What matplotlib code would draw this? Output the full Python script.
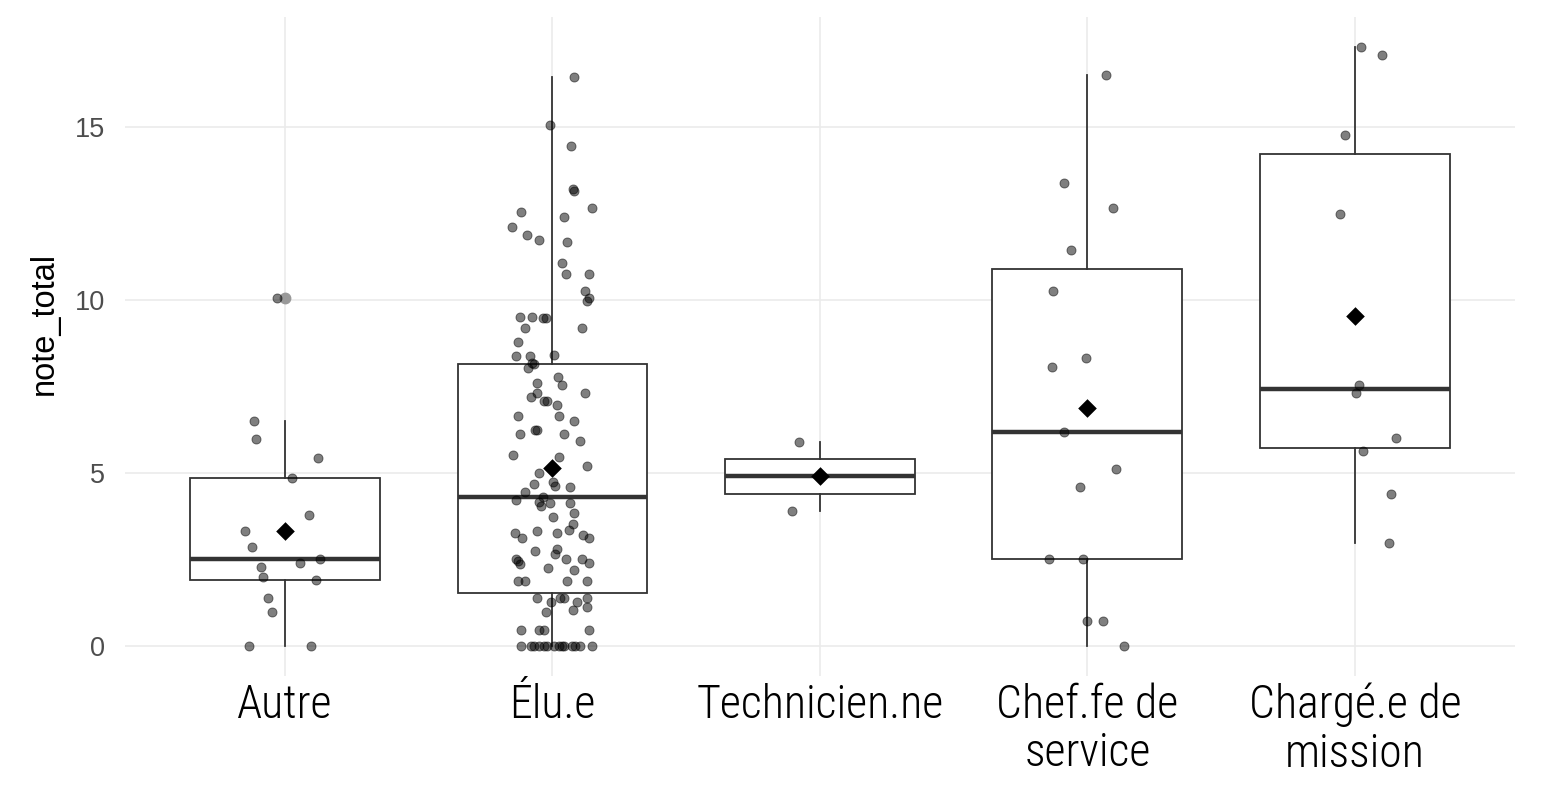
import numpy as np
import matplotlib
matplotlib.use("Agg")
import matplotlib.pyplot as plt

categories = ["Autre", "Élu.e", "Technicien.ne", "Chef.fe de\nservice", "Chargé.e de\nmission"]

# points (valeur, décalage horizontal du jitter en unités de catégorie)
autre_vals = [10.07, 6.50, 5.98, 5.43, 4.86, 3.79, 3.32, 2.87, 2.52, 2.40, 2.28, 2.00, 1.91, 1.39, 0.98, 0, 0]
autre_jit = [-0.030, -0.116, -0.108, 0.123, 0.026, 0.090, -0.150, -0.123, 0.131, 0.056, -0.090, -0.082, 0.116, -0.064, -0.049, -0.135, 0.097]

elu_vals = [16.43, 15.05, 14.44, 13.20, 13.15, 12.65, 12.54, 12.40, 12.10, 11.88, 11.73, 11.67, 11.06, 10.76, 10.76,
            10.25, 10.06, 9.97, 9.50, 9.50, 9.47, 9.47, 9.19, 9.19, 8.77, 8.37, 8.37, 8.42,
            8.19, 8.14, 8.03, 7.77, 7.60, 7.55, 7.31, 7.31, 7.20, 7.08, 7.08, 6.95, 6.64, 6.64, 6.49, 6.24, 6.24,
            6.12, 6.12, 5.92, 5.52, 5.45, 5.20, 5.00, 4.69, 4.73, 4.63, 4.60, 4.44, 4.23, 4.30, 4.15, 4.04, 4.13,
            4.13, 3.73, 3.83, 3.53, 3.36, 3.27, 3.31, 3.27, 3.22, 3.11, 3.11, 2.75, 2.81, 2.65, 2.50, 2.45, 2.38,
            2.50, 2.50, 2.40, 2.24, 2.19, 1.89, 1.89, 1.89, 1.89, 1.38, 1.27, 1.38, 1.38, 1.28, 1.38, 1.12, 1.03,
            0.97, 0.47, 0.47, 0.47, 0.47, 0, 0, 0, 0, 0, 0, 0, 0, 0, 0, 0, 0, 0, 0]
elu_jit = [0.081, -0.010, 0.070, 0.077, 0.082, 0.148, -0.116, 0.042, -0.150, -0.096, -0.051, 0.055, 0.036, 0.049, 0.136,
           0.121, 0.136, 0.130, -0.123, -0.075, -0.034, -0.026, -0.102, 0.110, -0.128, -0.136, -0.083, 0.004,
           -0.076, -0.070, -0.091, 0.022, -0.057, 0.036, 0.122, -0.057, -0.079, -0.030, -0.022, 0.016, -0.130, 0.024, 0.081, -0.066, -0.059,
           -0.122, 0.044, 0.104, -0.148, 0.024, 0.130, -0.050, -0.070, 0.003, 0.010, 0.064, -0.102, -0.135, -0.037, -0.050, -0.044, -0.010,
           0.064, 0.003, 0.082, 0.076, 0.061, -0.142, -0.057, 0.018, 0.115, -0.115, 0.137, -0.064, 0.018, 0.010, -0.136, -0.130, -0.122,
           0.050, 0.110, 0.136, -0.016, 0.082, -0.128, -0.104, 0.056, 0.130, -0.057, -0.004, 0.027, 0.042, 0.090, 0.130, 0.130, 0.076,
           -0.024, -0.116, -0.049, -0.030, 0.136, -0.116, -0.082, -0.070, -0.051, -0.033, -0.020, 0.005, 0.024, 0.036, 0.042, 0.074, 0.086, 0.102, 0.146]

tech_vals = [5.90, 4.90, 3.90]
tech_jit = [-0.078, 0.0, -0.105]

chef_vals = [16.49, 13.38, 12.67, 11.43, 10.26, 8.32, 8.06, 6.19, 5.11, 4.60, 2.51, 2.51, 0.71, 0.71, 0]
chef_jit = [0.071, -0.086, 0.097, -0.060, -0.127, -0.007, -0.131, -0.086, 0.105, -0.026, -0.142, -0.015, 0.0, 0.060, 0.138]

charge_vals = [17.32, 17.07, 14.78, 12.49, 7.54, 7.30, 6.02, 5.62, 4.38, 2.96]
charge_jit = [0.022, 0.100, -0.037, -0.056, 0.015, 0.004, 0.153, 0.030, 0.135, 0.127]

# statistiques des boîtes
q1 = [1.91, 1.54, 4.40, 2.51, 5.72]
medianes = [2.52, 4.29, 4.90, 6.19, 7.43]
q3 = [4.86, 8.14, 5.40, 10.88, 14.21]
whis_bas = [0, 0, 3.90, 0, 2.96]
whis_haut = [6.50, 16.45, 5.90, 16.49, 17.32]
moyennes = [3.32, 5.14, 4.90, 6.87, 9.54]
outliers = [[10.07], [], [], [], []]

valeurs = [autre_vals, elu_vals, tech_vals, chef_vals, charge_vals]
jitters = [autre_jit, elu_jit, tech_jit, chef_jit, charge_jit]

fig = plt.figure(figsize=(15.41, 7.90), dpi=100)
ax = fig.add_axes([0.0808, 0.1443, 0.9026, 0.8347])

stats = []
for i in range(len(categories)):
    stats.append({"med": medianes[i], "q1": q1[i], "q3": q3[i], "whislo": whis_bas[i],
                  "whishi": whis_haut[i], "fliers": outliers[i], "mean": moyennes[i]})

pos = np.arange(1, len(categories) + 1)
ax.bxp(stats, positions=pos, widths=0.71, showcaps=False, patch_artist=True, showfliers=True,
       boxprops=dict(facecolor="white", edgecolor="#333333", linewidth=1.3),
       whiskerprops=dict(color="#333333", linewidth=1.3),
       medianprops=dict(color="#333333", linewidth=3.2, solid_capstyle="butt"),
       flierprops=dict(marker="o", markerfacecolor="#999999", markeredgecolor="#999999", markersize=7.5),
       zorder=2)

for i, (v, j) in enumerate(zip(valeurs, jitters)):
    x = pos[i] + np.array(j)
    ax.scatter(x, v, s=42, color="black", alpha=0.5, linewidths=0.7, edgecolors="black", zorder=3)

ax.scatter(pos, moyennes, marker="D", s=90, color="black", zorder=4, linewidths=0)

ax.set_xlim(0.4, 5.6)
ax.set_ylim(-0.87, 18.19)
ax.set_yticks([0, 5, 10, 15])
ax.set_xticks(pos)
ax.set_xticklabels(categories, family=["Roboto Condensed", "Open Sans Condensed", "Roboto", "DejaVu Sans"],
                   fontsize=33, weight="light", color="black", linespacing=1.12)
for t in ax.get_yticklabels():
    t.set_family(["Liberation Sans", "DejaVu Sans"])
    t.set_fontsize(19.5)
    t.set_color("#4d4d4d")
ax.tick_params(axis="both", length=0)
ax.tick_params(axis="x", pad=5)
ax.tick_params(axis="y", pad=14)
ax.set_ylabel("note_total", family=["Liberation Sans", "DejaVu Sans"], fontsize=23.5, color="black")
ax.yaxis.set_label_coords(-0.0464, 0.535)

ax.grid(True, color="#ebebeb", linewidth=1.2)
ax.set_axisbelow(True)
for s in ax.spines.values():
    s.set_visible(False)

fig.savefig("out.png", dpi=100, facecolor="white")
